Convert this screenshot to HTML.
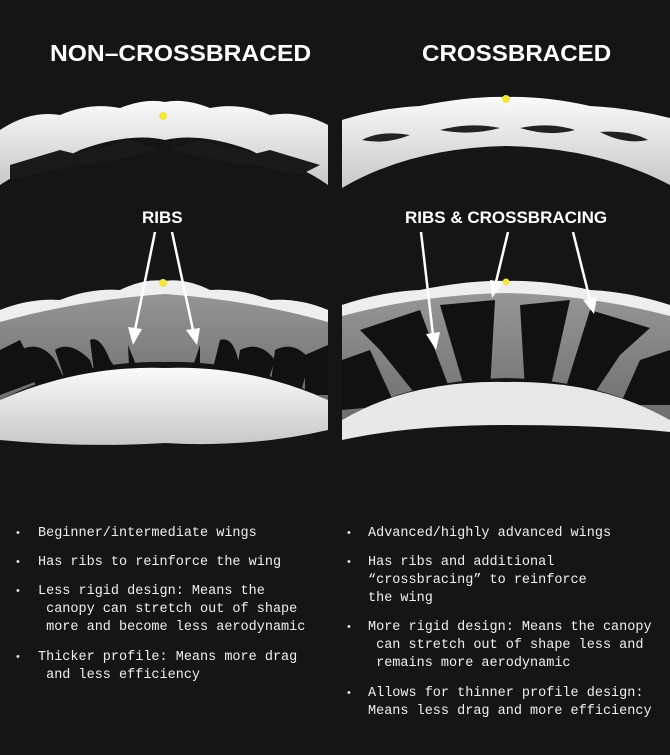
<!DOCTYPE html>
<html><head><meta charset="utf-8"><style>
html,body{margin:0;padding:0;background:#151515;}
body{width:670px;height:755px;position:relative;overflow:hidden;font-family:"Liberation Sans",sans-serif;color:#fff;}
.t{position:absolute;font-weight:900;font-size:23px;letter-spacing:0px;top:40px;transform-origin:0 0;}
.l{position:absolute;font-family:"Liberation Mono",monospace;font-size:13.5px;line-height:18px;letter-spacing:0px;color:#f0f0f0;white-space:nowrap;}
.b{position:absolute;font-size:11px;color:#ddd;}
svg{position:absolute;left:0;top:0;}
</style></head><body>
<svg width="670" height="755" viewBox="0 0 670 755">
<defs>
<linearGradient id="g1" x1="0" y1="0" x2="0" y2="1"><stop offset="0" stop-color="#fafafa"/><stop offset="1" stop-color="#c8c8c8"/></linearGradient>
<linearGradient id="g2" x1="0" y1="0" x2="0" y2="1"><stop offset="0" stop-color="#9a9a9a"/><stop offset="1" stop-color="#6e6e6e"/></linearGradient>
</defs>
<path d="M0 130 Q30 110 60 115 Q90 102 120 108 Q145 98 165 102 Q185 98 210 108 Q240 102 270 115 Q300 110 328 125 L328 185 Q300 165 270 160 L250 150 Q200 132 165 140 Q130 132 80 150 L60 160 Q30 165 0 185 Z" fill="url(#g1)"/>
<path d="M10 165 L60 150 L100 160 L10 180 Z M70 155 L130 140 L160 150 L90 165 Z M170 150 L200 140 L260 155 L240 165 Z M230 160 L270 150 L320 165 L300 175 Z" fill="#1a1a1a"/>
<circle cx="163" cy="116" r="4" fill="#f3e640"/>
<path d="M342 120 Q380 108 420 106 Q470 96 506 97 Q545 96 590 106 Q630 108 670 118 L670 185 Q600 148 506 146 Q410 148 342 188 Z" fill="url(#g1)"/>
<path d="M362 140 Q380 130 410 135 Q385 145 362 140 Z M440 130 Q470 122 500 128 Q470 136 440 130 Z M520 128 Q550 122 575 130 Q550 137 520 128 Z M600 132 Q630 130 648 140 Q625 145 600 132 Z" fill="#222"/>
<circle cx="506" cy="99" r="4" fill="#f3e640"/>
<path d="M0 310 Q30 298 60 300 Q90 288 120 290 Q145 278 165 281 Q185 278 210 290 Q240 288 270 300 Q300 298 328 310 L328 400 Q250 360 165 362 Q80 360 0 400 Z" fill="url(#g2)"/>
<path d="M0 310 Q30 298 60 300 Q90 288 120 290 Q145 278 165 281 Q185 278 210 290 Q240 288 270 300 Q300 298 328 310 L328 322 Q250 300 165 294 Q80 300 0 322 Z" fill="#eee"/>
<path d="M0 350 L20 340 L40 380 L0 395 Z M20 350 Q40 340 55 360 L70 390 L40 395 Z M55 350 Q70 340 90 360 L100 390 L70 395 Z M90 340 Q100 335 110 360 L120 375 L95 380 Z M128 345 L140 375 L130 385 Z M200 345 L190 375 L200 385 Z M220 340 Q235 335 240 370 L210 380 Z M240 350 Q260 340 275 360 L265 390 L235 385 Z M275 350 Q295 340 310 360 L300 395 L270 390 Z M305 355 L328 345 L328 395 L305 395 Z" fill="#111"/>
<path d="M0 400 Q80 365 165 368 Q250 365 328 400 L328 430 Q250 448 165 443 Q80 448 0 440 Z" fill="url(#g1)"/>
<circle cx="163" cy="283" r="4" fill="#f3e640"/>
<path d="M342 305 Q380 292 420 290 Q470 280 506 281 Q545 280 590 290 Q630 292 670 305 L670 420 Q600 380 506 378 Q410 380 342 420 Z" fill="url(#g2)"/>
<path d="M342 305 Q380 292 420 290 Q470 280 506 281 Q545 280 590 290 Q630 292 670 305 L670 316 Q590 295 506 293 Q420 295 342 316 Z" fill="#eee"/>
<path d="M360 330 L420 310 L450 390 L420 400 L380 350 Z M440 305 L495 300 L490 390 L465 390 Z M520 305 L570 300 L550 390 L525 390 Z M590 310 L650 328 L620 355 L590 400 L565 390 Z M342 360 L370 350 L395 405 L342 410 Z M640 360 L670 350 L670 405 L620 405 Z" fill="#111"/>
<path d="M342 420 Q410 380 506 382 Q600 380 670 420 L670 432 Q600 425 506 425 Q410 425 342 440 Z" fill="#e8e8e8"/>
<circle cx="506" cy="282" r="3.5" fill="#f3e640"/>
<g stroke="#fff" stroke-width="2.5" fill="#fff">
<line x1="155" y1="232" x2="135" y2="330"/><polygon points="128,327 142,329 133,345" stroke="none"/>
<line x1="172" y1="232" x2="193" y2="330"/><polygon points="186,330 200,328 197,345" stroke="none"/>
<line x1="421" y1="232" x2="433" y2="335"/><polygon points="426,334 440,332 436,350" stroke="none"/>
<line x1="508" y1="232" x2="496" y2="282"/><polygon points="490,280 503,282 492,298" stroke="none"/>
<line x1="573" y1="232" x2="590" y2="300"/><polygon points="583,300 597,297 594,314" stroke="none"/>
</g>
</svg>
<div class="t" style="left:50px;transform:scaleX(1.07);">NON–CROSSBRACED</div>
<div class="t" style="left:422px;transform:scaleX(1.05);">CROSSBRACED</div>
<div class="t" style="left:142px;top:208px;font-size:17px;">RIBS</div>
<div class="t" style="left:405px;top:208px;font-size:17px;">RIBS &amp; CROSSBRACING</div>

<div class="b" style="left:16px;top:527px">•</div><div class="l" style="left:38px;top:525px">Beginner/intermediate wings</div>
<div class="b" style="left:16px;top:556px">•</div><div class="l" style="left:38px;top:554px">Has ribs to reinforce the wing</div>
<div class="b" style="left:16px;top:585px">•</div><div class="l" style="left:38px;top:583px">Less rigid design: Means the<br>&nbsp;canopy can stretch out of shape<br>&nbsp;more and become less aerodynamic</div>
<div class="b" style="left:16px;top:651px">•</div><div class="l" style="left:38px;top:649px">Thicker profile: Means more drag<br>&nbsp;and less efficiency</div>

<div class="b" style="left:347px;top:527px">•</div><div class="l" style="left:368px;top:525px">Advanced/highly advanced wings</div>
<div class="b" style="left:347px;top:556px">•</div><div class="l" style="left:368px;top:554px">Has ribs and additional<br>“crossbracing” to reinforce<br>the wing</div>
<div class="b" style="left:347px;top:621px">•</div><div class="l" style="left:368px;top:619px">More rigid design: Means the canopy<br>&nbsp;can stretch out of shape less and<br>&nbsp;remains more aerodynamic</div>
<div class="b" style="left:347px;top:687px">•</div><div class="l" style="left:368px;top:685px">Allows for thinner profile design:<br>Means less drag and more efficiency</div>
</body></html>
